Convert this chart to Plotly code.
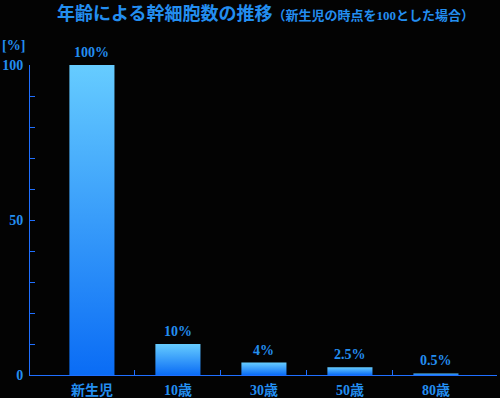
import plotly.graph_objects as go

categories = ["新生児", "10歳", "30歳", "50歳", "80歳"]
values = [100, 10, 4, 2.5, 0.5]
value_labels = ["100%", "10%", "4%", "2.5%", "0.5%"]
y_tickvals = [0, 50, 100]
y_ticktext = ["0", "50", "100"]

FONT = "Liberation Serif, 'Noto Sans CJK JP', serif"
TXT = "#238ef0"
AXIS = "#1f6fff"
BG = "#030303"
BAR_HALF = 0.262

W, H = 500, 398
ML, MR, MT, MB = 30, 3, 65, 23
pw, ph = W - ML - MR, H - MT - MB

fig = go.Figure()
xs = list(range(len(categories)))
for i, v in zip(xs, values):
    fig.add_trace(go.Scatter(
        x=[i - BAR_HALF, i + BAR_HALF, i + BAR_HALF, i - BAR_HALF, i - BAR_HALF],
        y=[0, 0, v, v, 0],
        mode="lines", line=dict(width=0), fill="toself",
        fillgradient=dict(type="vertical",
                          colorscale=[[0, "#0a6cf5"], [1, "#66ccff"]]),
        hoverinfo="skip", showlegend=False,
    ))

for i, v, t in zip(xs, values, value_labels):
    fig.add_annotation(x=i, y=v, text="<b>%s</b>" % t, showarrow=False, xref="x", yref="y",
                       yanchor="bottom", yshift=3,
                       font=dict(family=FONT, size=14, color=TXT))

fig.add_annotation(
    x=(265 - ML) / pw, y=(H - MB - 13) / ph, xref="paper", yref="paper", showarrow=False,
    text="<b>年齢による幹細胞数の推移</b><b><span style='font-size:13px'>（新生児の時点を100とした場合）</span></b>",
    font=dict(family=FONT, size=18, color=TXT),
    xanchor="center", yanchor="middle",
)

fig.add_annotation(x=(0 - ML) / pw, y=(H - MB - 45) / ph, xref="paper", yref="paper",
                   text="<b>[%]</b>", showarrow=False, xanchor="left", yanchor="middle",
                   font=dict(family=FONT, size=14, color=TXT))

fig.update_layout(
    width=W, height=H,
    margin=dict(l=ML, r=MR, t=MT, b=MB, pad=0, autoexpand=False),
    paper_bgcolor=BG, plot_bgcolor=BG,
    xaxis=dict(range=[-0.72, 4.71], tickvals=xs, ticktext=["<b>%s</b>" % c for c in categories],
               ticks="", automargin=False,
               showline=True, linecolor=AXIS, linewidth=1, showgrid=False,
               zeroline=False, ticklabelstandoff=2,
               tickfont=dict(family=FONT, size=14, color=TXT),
               minor=dict(tickvals=[0.5, 1.5, 2.5, 3.5], ticks="inside",
                          ticklen=5, tickcolor=AXIS, tickwidth=1, showgrid=False)),
    yaxis=dict(range=[0, 100], tickvals=y_tickvals, ticktext=["<b>%s</b>" % t for t in y_ticktext],
               ticks="inside", ticklen=5, tickcolor=AXIS, tickwidth=1, automargin=False,
               showline=True, linecolor=AXIS, linewidth=1, showgrid=False,
               zeroline=False, ticklabelstandoff=3,
               tickfont=dict(family=FONT, size=14, color=TXT),
               minor=dict(dtick=10, ticks="inside", ticklen=5, tickcolor=AXIS,
                          tickwidth=1, showgrid=False)),
)

fig.write_html("out.html", config={"displayModeBar": False},
               post_script="document.body.style.margin='0';document.body.style.background='%s';" % BG)
